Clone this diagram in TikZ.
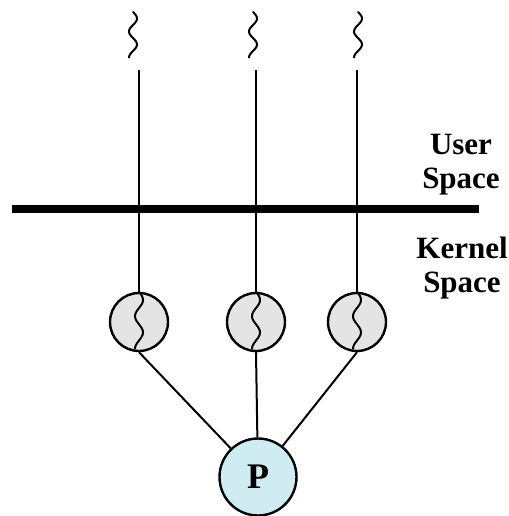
\documentclass[tikz,border=0pt]{standalone}
\usepackage{fontspec}
\setmainfont{Liberation Serif}
\usetikzlibrary{calc}
\definecolor{kgray}{RGB}{228,228,228}
\definecolor{pblue}{RGB}{207,236,243}

\begin{document}
\begin{tikzpicture}[x=1pt,y=-1pt,
    kthread/.style={circle,draw,line width=2.4pt,fill=kgray,minimum size=58pt,inner sep=0pt},
    proc/.style={circle,draw,line width=2.4pt,fill=pblue,minimum size=77pt,inner sep=0pt,
        font=\bfseries\fontsize{36}{36}\selectfont},
    spacelbl/.style={align=center,inner sep=0pt,font=\bfseries\fontsize{31}{34}\selectfont},
    squiggle/.pic={\draw[line width=2pt,line cap=round]
        plot[smooth,domain=0:45.5,samples=40,variable=\t] ({4*sin(\t/26*360)},\t);}]
    \useasboundingbox (0,0) rectangle (508,516);
    % user / kernel boundary
    \coordinate (barL) at (12,209);
    \coordinate (barR) at (479,209);
    \draw[line width=8pt] (barL) -- (barR);
    \node[spacelbl,anchor=north] (user) at (461,134) {User\\Space};
    \node[spacelbl,anchor=north] (kernel) at (462,237) {Kernel\\Space};
    % process and its kernel threads
    \node[proc] (p) at (258,477) {P};
    \foreach \n/\x in {1/139,2/256,3/357}{
        \node[kthread] (k\n) at (\x,322) {};
        \coordinate (u\n) at (\x,70);
        \draw[line width=2pt] (u\n) -- (k\n);
        \draw[line width=2pt] (k\n.south) -- (p);
        \pic[yscale=1.25] at (k\n.north) {squiggle};
    }
    \foreach \x in {133,253,358}
        \pic at (\x,12) {squiggle};
\end{tikzpicture}
\end{document}
